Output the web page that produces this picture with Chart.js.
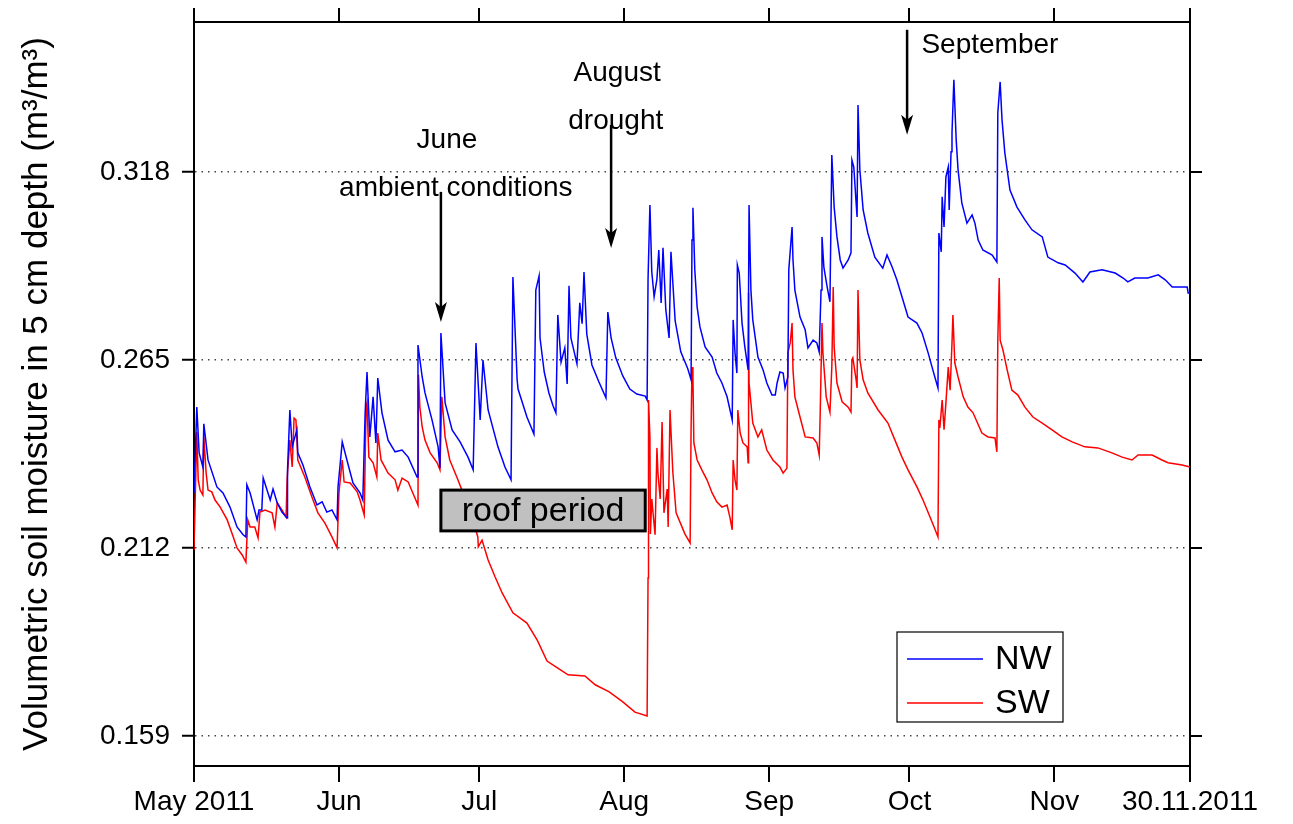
<!DOCTYPE html>
<html><head><meta charset="utf-8">
<script src="https://cdn.jsdelivr.net/npm/chart.js@4"></script>
<style>html,body{margin:0;padding:0;background:#fff;}#c{display:block;}</style>
</head><body>
<canvas id="c" width="1293" height="824"></canvas>
<script>
// ---- data (day index from 1 May 2011, volumetric soil moisture m3/m3) ----
const nwDays = [0,0.6,1.1,1.9,2.1,3.0,4.9,6.2,7.7,9.2,10.5,11.1,11.3,12.0,13.5,13.9,14.5,14.8,16.3,16.9,17.8,18.8,19.9,20.0,20.5,21.0,22.0,22.2,23.3,24.8,26.3,27.4,28.4,29.5,30.6,30.8,31.7,32.7,34.0,35.5,
36.1,36.6,37.0,37.6,38.3,38.9,39.3,40.2,41.5,43.0,44.5,45.8,47.7,47.9,48.8,49.4,50.9,52.2,52.6,52.8,53.7,55.2,56.9,58.6,59.7,60.3,61.2,61.8,62.9,65.0,66.5,67.8,68.2,69.1,
69.3,71.2,72.7,73.1,73.8,74.0,74.9,75.9,76.8,77.4,77.8,78.5,79.3,79.8,80.2,80.6,81.9,82.5,83.0,83.4,84.0,85.1,86.6,88.1,88.5,89.2,90.2,91.7,93.2,94.7,96.5,96.9,97.1,97.5,97.9,98.4,99.0,99.4,99.9,100.3,100.9,101.6,102.0,102.9,104.1,105.6,
106.3,106.5,106.7,107.1,107.6,108.2,109.3,110.8,111.8,112.9,114.0,115.1,115.3,115.7,116.1,116.2,116.6,117.2,117.8,118.5,118.7,119.1,119.5,120.6,121.7,122.5,123.6,124.3,124.7,125.3,126.0,126.4,127.0,127.2,127.9,128.1,128.5,129.6,130.7,131.3,132.4,133.2,133.7,134.1,134.3,134.7,135.4,136.0,136.4,136.9,137.5,138.2,
138.8,139.9,140.5,140.7,141.1,141.6,141.8,142.0,142.4,143.1,144.1,145.6,147.3,148.2,149.3,150.3,151.4,152.7,154.6,155.7,157.0,158.0,159.1,159.3,159.8,160.0,160.4,160.8,161.3,161.5,161.9,162.1,162.5,163.0,163.4,164.2,165.3,166.4,167.0,167.7,168.7,170.7,171.7,171.9,172.4,
172.8,173.4,174.5,176.0,177.7,179.2,181.4,182.6,184.8,186.3,188.4,190.1,191.6,194.2,197.0,198.7,199.7,201.2,204.0,206.2,207.7,209.2,212.4,212.6,213.0];
const nwValues = [0.2275,0.2517,0.2388,0.2348,0.2470,0.2368,0.2292,0.2275,0.2235,0.2179,0.2157,0.2151,0.2298,0.2275,0.2199,0.2227,0.2227,0.2317,0.2255,0.2286,0.2247,0.2221,0.2204,0.2340,0.2509,0.2405,0.2453,0.2388,0.2354,0.2292,0.2241,0.2250,0.2221,0.2227,0.2199,0.2292,0.2419,0.2368,0.2303,0.2275,
0.2255,0.2501,0.2616,0.2433,0.2546,0.2416,0.2599,0.2501,0.2424,0.2391,0.2396,0.2376,0.2320,0.2692,0.2602,0.2557,0.2481,0.2405,0.2345,0.2726,0.2529,0.2453,0.2419,0.2376,0.2340,0.2698,0.2481,0.2650,0.2509,0.2405,0.2348,0.2312,0.2884,0.2594,
0.2568,0.2489,0.2441,0.2847,0.2887,0.2712,0.2616,0.2557,0.2520,0.2501,0.2777,0.2644,0.2684,0.2582,0.2859,0.2712,0.2639,0.2811,0.2752,0.2898,0.2723,0.2636,0.2588,0.2543,0.2785,0.2712,0.2656,0.2605,0.2568,0.2554,0.2548,0.2537,0.2878,0.3087,0.2898,0.2828,0.2878,0.2960,0.2811,0.2966,0.2791,0.2712,0.2955,0.2760,0.2673,0.2625,
0.2594,0.2988,0.3079,0.2904,0.2799,0.2743,0.2687,0.2658,0.2613,0.2585,0.2546,0.2481,0.2763,0.2670,0.2613,0.2918,0.2895,0.2754,0.2687,0.2622,0.3087,0.2847,0.2763,0.2658,0.2622,0.2585,0.2551,0.2551,0.2585,0.2616,0.2613,0.2571,0.2602,0.2904,0.3025,0.2932,0.2847,0.2771,0.2735,0.2684,0.2706,0.2698,0.2673,0.2847,0.2997,0.2912,0.2856,0.2814,0.3228,0.3081,0.2997,0.2932,
0.2909,0.2932,0.2952,0.3214,0.3194,0.3093,0.3053,0.3369,0.3186,0.3073,0.3008,0.2940,0.2909,0.2946,0.2912,0.2876,0.2828,0.2771,0.2754,0.2726,0.2670,0.2622,0.2571,0.3008,0.2955,0.3110,0.3025,0.3166,0.3194,0.3073,0.3237,0.3290,0.3440,0.3270,0.3186,0.3093,0.3036,0.3059,0.3036,0.2988,0.2960,0.2946,0.2926,0.3347,0.3434,
0.3327,0.3234,0.3129,0.3081,0.3045,0.3017,0.2997,0.2940,0.2924,0.2918,0.2895,0.2870,0.2898,0.2904,0.2895,0.2881,0.2870,0.2881,0.2881,0.2890,0.2876,0.2856,0.2856,0.2839,0.2839];

const swDays = [0,0.6,0.9,1.3,1.9,2.1,2.6,3.0,3.8,4.5,5.6,7.1,8.1,9.2,10.3,11.1,11.5,12.0,13.0,13.7,14.1,15.2,16.7,17.3,17.8,18.8,19.7,19.9,20.5,21.0,21.4,21.8,22.2,23.7,25.2,26.5,28.0,29.5,30.6,31.0,31.7,32.1,33.4,34.9,35.5,
36.4,36.8,37.0,37.4,38.3,39.1,39.3,40.0,41.5,43.0,43.6,44.5,45.8,46.8,47.9,48.0,48.3,48.8,49.4,50.5,52.0,52.6,53.0,53.7,54.7,56.2,57.3,59.0,60.7,60.8,61.6,62.9,64.4,65.9,68.2,71.2,73.4,75.5,77.8,80.0,83.6,85.8,88.8,91.7,94.3,96.9,
97.1,97.2,97.5,97.6,97.9,98.6,99.0,99.2,99.7,100.1,100.5,101.2,101.4,101.8,102.4,103.1,105.0,106.1,
106.3,106.5,106.7,106.9,107.6,108.6,109.7,110.8,111.8,112.9,114.0,114.6,115.1,115.3,115.7,116.1,116.3,116.8,117.4,118.3,118.5,118.6,118.7,119.1,119.5,120.6,121.4,122.5,123.8,125.3,126.0,126.8,127.0,127.5,127.9,128.1,128.5,129.6,130.7,132.4,133.2,133.7,133.9,134.3,134.5,135.2,136.0,136.4,136.7,136.9,137.5,138.6,139.9,140.5,
140.7,140.9,141.6,141.8,142.0,142.4,143.1,144.1,146.3,148.4,149.9,151.4,152.7,154.6,155.9,157.4,158.5,159.1,159.3,159.5,160.0,160.4,160.8,161.3,161.7,162.1,162.3,162.7,163.4,164.5,165.5,166.6,168.5,169.8,171.3,171.7,
171.9,172.2,172.4,173.0,173.9,174.9,176.2,177.7,179.4,181.4,183.5,185.6,187.8,190.5,193.3,196.3,198.5,200.6,201.9,204.9,207.0,208.3,211.3,213.0];
const swValues = [0.2114,0.2447,0.2312,0.2283,0.2269,0.2433,0.2331,0.2283,0.2278,0.2255,0.2235,0.2199,0.2162,0.2120,0.2100,0.2080,0.2199,0.2179,0.2179,0.2148,0.2221,0.2227,0.2219,0.2179,0.2247,0.2227,0.2207,0.2312,0.2424,0.2348,0.2486,0.2481,0.2368,0.2320,0.2264,0.2219,0.2190,0.2151,0.2120,0.2275,0.2368,0.2306,0.2303,0.2278,0.2255,
0.2213,0.2517,0.2529,0.2376,0.2360,0.2320,0.2444,0.2368,0.2331,0.2312,0.2283,0.2317,0.2306,0.2275,0.2241,0.2608,0.2517,0.2461,0.2424,0.2388,0.2360,0.2340,0.2546,0.2433,0.2368,0.2320,0.2283,0.2227,0.2151,0.2123,0.2142,0.2086,0.2038,0.1993,0.1937,0.1908,0.1860,0.1801,0.1781,0.1762,0.1759,0.1734,0.1714,0.1686,0.1657,0.1646,
0.2035,0.2537,0.2433,0.2159,0.2258,0.2157,0.2402,0.2334,0.2258,0.2475,0.2219,0.2286,0.2179,0.2509,0.2334,0.2219,0.2159,0.2134,
0.2453,0.2630,0.2602,0.2416,0.2368,0.2340,0.2312,0.2275,0.2250,0.2235,0.2241,0.2207,0.2171,0.2368,0.2312,0.2283,0.2509,0.2444,0.2416,0.2405,0.2360,0.2839,0.2585,0.2529,0.2472,0.2433,0.2453,0.2396,0.2368,0.2348,0.2331,0.2345,0.2670,0.2698,0.2754,0.2622,0.2546,0.2489,0.2433,0.2430,0.2416,0.2382,0.2489,0.2754,0.2670,0.2546,0.2503,0.2630,0.2856,0.2687,0.2585,0.2532,0.2517,0.2503,
0.2650,0.2656,0.2594,0.2571,0.2847,0.2650,0.2594,0.2557,0.2509,0.2472,0.2424,0.2376,0.2340,0.2292,0.2255,0.2207,0.2171,0.2151,0.2481,0.2458,0.2537,0.2453,0.2529,0.2630,0.2565,0.2698,0.2777,0.2642,0.2602,0.2546,0.2517,0.2501,0.2444,0.2433,0.2430,0.2391,
0.2706,0.2881,0.2706,0.2678,0.2622,0.2565,0.2551,0.2517,0.2489,0.2472,0.2453,0.2433,0.2419,0.2405,0.2402,0.2388,0.2376,0.2368,0.2382,0.2382,0.2368,0.2360,0.2354,0.2348];

const seriesNames = ['NW','SW'];
const tickDays = [0,31,61,92,123,153,184,213];
const tickLabels = ['May 2011','Jun','Jul','Aug','Sep','Oct','Nov','30.11.2011'];
const yTicks = [0.159,0.212,0.265,0.318];
const yTitle = 'Volumetric soil moisture in 5 cm depth (m\u00B3/m\u00B3)';

// annotation arrows: day, top value, tip value
const arrowDays = [52.8, 89.2, 152.5];
const arrowTops = [0.3124, 0.3313, 0.3581];
const arrowTips = [0.2757, 0.2966, 0.3285];
// annotation texts
const noteTexts = ['June','ambient conditions','August','drought','September'];
const noteDays  = [54.1, 56.0, 90.5, 90.2, 170.2];
const noteVals  = [0.3270, 0.3135, 0.3459, 0.3324, 0.3538];
// roof period box (days, values)
const roofLabel = 'roof period';
const roofDays = [52.8, 96.5];
const roofVals = [0.2283, 0.2168];

const FONT = 'Arial, "Liberation Sans", sans-serif';

const overlay = {
  id:'overlay',
  afterDatasetsDraw(chart){
    const ctx = chart.ctx, xs = chart.scales.x, ys = chart.scales.y;
    ctx.save();
    // arrows
    ctx.strokeStyle = '#000'; ctx.fillStyle = '#000'; ctx.lineWidth = 2.5;
    arrowDays.forEach((d,i)=>{
      const x = xs.getPixelForValue(d), y1 = ys.getPixelForValue(arrowTops[i]), y2 = ys.getPixelForValue(arrowTips[i]);
      ctx.beginPath(); ctx.moveTo(x,y1); ctx.lineTo(x,y2-12); ctx.stroke();
      ctx.beginPath(); ctx.moveTo(x,y2); ctx.lineTo(x-6,y2-20); ctx.lineTo(x,y2-15); ctx.lineTo(x+6,y2-20); ctx.closePath(); ctx.fill();
    });
    // texts
    ctx.font = '28px ' + FONT; ctx.textAlign = 'center'; ctx.textBaseline = 'middle';
    noteTexts.forEach((t,i)=>{ ctx.fillText(t, xs.getPixelForValue(noteDays[i]), ys.getPixelForValue(noteVals[i])); });
    // roof period box
    const bx1 = xs.getPixelForValue(roofDays[0]), bx2 = xs.getPixelForValue(roofDays[1]);
    const by1 = ys.getPixelForValue(roofVals[0]), by2 = ys.getPixelForValue(roofVals[1]);
    ctx.fillStyle = '#c0c0c0'; ctx.fillRect(bx1,by1,bx2-bx1,by2-by1);
    ctx.lineWidth = 3; ctx.strokeStyle = '#000'; ctx.strokeRect(bx1,by1,bx2-bx1,by2-by1);
    ctx.fillStyle = '#000'; ctx.font = '34px ' + FONT;
    ctx.fillText(roofLabel, (bx1+bx2)/2, (by1+by2)/2+1);
    // legend
    const a = chart.chartArea;
    const lx = a.right - 293, ly = a.top + 610, lw = 166, lh = 90;
    ctx.fillStyle = '#fff'; ctx.fillRect(lx,ly,lw,lh);
    ctx.lineWidth = 1.2; ctx.strokeStyle = '#000'; ctx.strokeRect(lx,ly,lw,lh);
    chart.data.datasets.forEach((ds,i)=>{
      const yy = ly + 27 + i*44;
      ctx.strokeStyle = ds.borderColor; ctx.lineWidth = 1.5;
      ctx.beginPath(); ctx.moveTo(lx+10,yy); ctx.lineTo(lx+86,yy); ctx.stroke();
      ctx.fillStyle = '#000'; ctx.font = '34px ' + FONT; ctx.textAlign = 'left';
      ctx.fillText(ds.label, lx+98, yy+1);
    });
    ctx.restore();
  }
};

const mkTicks = arr => (s => { s.ticks = arr.map(v => ({value:v})); });
const noPad = s => { s.paddingTop = 0; s.paddingBottom = 0; s.paddingLeft = 0; s.paddingRight = 0; };

new Chart(document.getElementById('c'), {
  type:'line',
  data:{ datasets:[
    {label:seriesNames[0], data:nwDays.map((d,i)=>({x:d,y:nwValues[i]})), borderColor:'#0000ff', borderWidth:1.5, pointRadius:0, tension:0, fill:false},
    {label:seriesNames[1], data:swDays.map((d,i)=>({x:d,y:swValues[i]})), borderColor:'#ff0000', borderWidth:1.5, pointRadius:0, tension:0, fill:false}
  ]},
  options:{
    responsive:false, animation:false, devicePixelRatio:1,
    layout:{padding:0},
    plugins:{legend:{display:false}, tooltip:{enabled:false}},
    scales:{
      x:{type:'linear', position:'bottom', min:0, max:213,
        afterBuildTicks: mkTicks(tickDays), afterFit: s => { s.height = 58; noPad(s); },
        ticks:{autoSkip:false, maxRotation:0, padding:3, color:'#000', font:{size:28, family:FONT}, callback:(v,i)=>tickLabels[i]},
        grid:{drawOnChartArea:false, tickLength:16, color:'#000', lineWidth:2},
        border:{display:true, color:'#000', width:2}},
      xTop:{type:'linear', position:'top', min:0, max:213,
        afterBuildTicks: mkTicks(tickDays), afterFit: s => { s.height = 22; noPad(s); },
        ticks:{display:false},
        grid:{drawOnChartArea:false, tickLength:14, color:'#000', lineWidth:2},
        border:{display:true, color:'#000', width:2}},
      y:{type:'linear', position:'left', min:0.1505, max:0.3603,
        afterBuildTicks: mkTicks(yTicks), afterFit: s => { s.width = 194; noPad(s); },
        ticks:{padding:12, color:'#000', font:{size:28, family:FONT}, callback:v=>v.toFixed(3)},
        grid:{drawOnChartArea:true, color:'#444', lineWidth:1.5, tickLength:12, tickColor:'#000', tickWidth:2, tickBorderDash:[]},
        border:{display:true, color:'#000', width:2, dash:[1.5,5]},
        title:{display:true, text:yTitle, color:'#000', font:{size:35, family:FONT}, padding:{top:16, bottom:0}}},
      yRight:{type:'linear', position:'right', min:0.1505, max:0.3603,
        afterBuildTicks: mkTicks(yTicks), afterFit: s => { s.width = 103; noPad(s); },
        ticks:{display:false},
        grid:{drawOnChartArea:false, tickLength:12, color:'#000', lineWidth:2},
        border:{display:true, color:'#000', width:2}}
    }
  },
  plugins:[overlay]
});
</script>
</body></html>
